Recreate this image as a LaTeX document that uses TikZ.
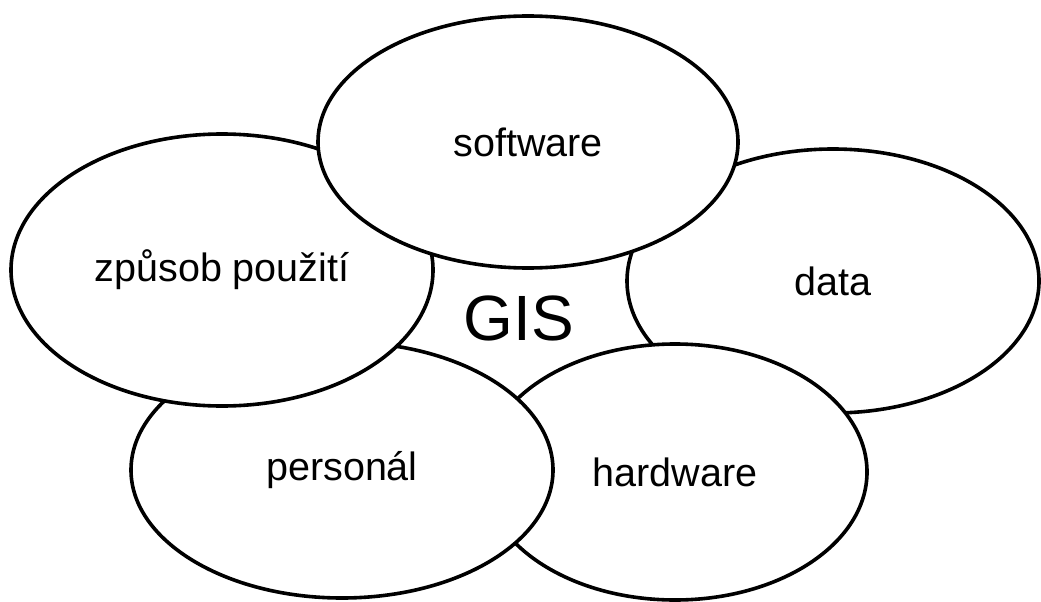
\documentclass[tikz,border=0pt]{standalone}
\usepackage{fontspec}
\setmainfont{Liberation Sans}
\usetikzlibrary{shapes.geometric}
\begin{document}
\begin{tikzpicture}[x=1pt,y=-1pt,
  blob/.style={ellipse, draw=black, fill=white, line width=3.6pt, inner sep=0pt, font=\fontsize{39.5}{41}\selectfont}]
\useasboundingbox[fill=white] (0,0) rectangle (1041,602);
\node[blob, minimum width=412pt, minimum height=264pt] (data) at (833,281) {data};
\node[blob, minimum width=384pt, minimum height=256pt] (hw) at (675,472) {hardware};
\node[blob, minimum width=422pt, minimum height=256pt] (pers) at (342,470) {personál};
\node[blob, minimum width=422pt, minimum height=272pt] (zp) at (222,270) {způsob použití};
\node[blob, minimum width=420pt, minimum height=252pt] (sw) at (528,142) {software};
\node[font=\fontsize{64}{66}\selectfont] (gis) at (519,318) {GIS};
\end{tikzpicture}
\end{document}
